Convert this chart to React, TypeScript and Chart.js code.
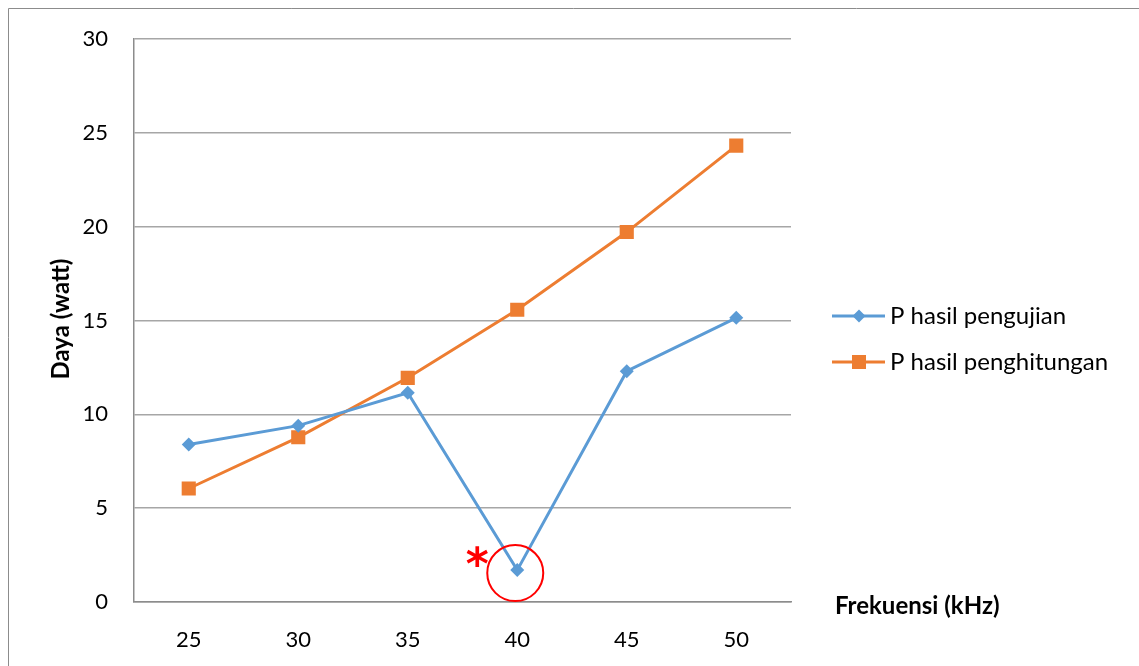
import React, { useEffect, useRef } from "react";
import { Chart, registerables } from "chart.js";

Chart.register(...registerables);

// Frequency categories (kHz)
const frequencies = ["25", "30", "35", "40", "45", "50"];
// Measured power (watt)
const pengujian = [8.4, 9.4, 11.15, 1.7, 12.3, 15.15];
// Calculated power (watt)
const penghitungan = [6.05, 8.78, 11.95, 15.58, 19.72, 24.33];

const yTicks = [0, 5, 10, 15, 20, 25, 30];

const seriesLabels = ["P hasil pengujian", "P hasil penghitungan"];
const blue = "#5b9bd5";
const orange = "#ed7d31";
const font = "Lato, 'Open Sans', sans-serif";

// Draws the frame, axis titles, custom legend and the highlight around the dip at 40 kHz
const decorations = {
  id: "decorations",
  afterDraw(chart: any) {
    const { ctx, chartArea, scales } = chart;
    ctx.save();

    // outer frame
    ctx.strokeStyle = "#8c8c8c";
    ctx.lineWidth = 1;
    ctx.beginPath();
    ctx.moveTo(8.5, chart.height);
    ctx.lineTo(8.5, 8.5);
    ctx.lineTo(chart.width, 8.5);
    ctx.stroke();

    // y-axis title
    ctx.fillStyle = "#000";
    ctx.font = `bold 24px ${font}`;
    ctx.textAlign = "center";
    ctx.textBaseline = "middle";
    ctx.save();
    ctx.translate(61, 319);
    ctx.rotate(-Math.PI / 2);
    ctx.fillText("Daya (watt)", 0, 0);
    ctx.restore();

    // x-axis title, beside the axis end
    ctx.textAlign = "left";
    ctx.fillText("Frekuensi (kHz)", chartArea.right + 44, chartArea.bottom + 4);

    // legend
    const legendX = chartArea.right + 41;
    const rows = [
      { y: 316, color: blue, style: "diamond", label: seriesLabels[0] },
      { y: 362, color: orange, style: "square", label: seriesLabels[1] },
    ];
    rows.forEach((r) => {
      ctx.strokeStyle = r.color;
      ctx.lineWidth = 3;
      ctx.beginPath();
      ctx.moveTo(legendX, r.y);
      ctx.lineTo(legendX + 53, r.y);
      ctx.stroke();
      ctx.fillStyle = r.color;
      const cx = legendX + 27;
      if (r.style === "diamond") {
        ctx.beginPath();
        ctx.moveTo(cx, r.y - 6.5);
        ctx.lineTo(cx + 6.5, r.y);
        ctx.lineTo(cx, r.y + 6.5);
        ctx.lineTo(cx - 6.5, r.y);
        ctx.closePath();
        ctx.fill();
      } else {
        ctx.fillRect(cx - 7, r.y - 7, 14, 14);
      }
      ctx.fillStyle = "#000";
      ctx.font = `24px ${font}`;
      ctx.textAlign = "left";
      ctx.textBaseline = "middle";
      ctx.fillText(r.label, legendX + 58, r.y);
    });

    // red circle and asterisk around the 40 kHz measurement
    const px = scales.x.getPixelForValue(3);
    const py = scales.y.getPixelForValue(pengujian[3]);
    ctx.strokeStyle = "#ff0000";
    ctx.lineWidth = 2;
    ctx.beginPath();
    ctx.arc(px - 2, py + 3, 28, 0, Math.PI * 2);
    ctx.stroke();

    ctx.fillStyle = "#ff0000";
    ctx.font = "bold 44px 'DejaVu Sans', sans-serif";
    ctx.textAlign = "left";
    ctx.textBaseline = "alphabetic";
    const m = ctx.measureText("*");
    const gw = m.actualBoundingBoxRight + m.actualBoundingBoxLeft;
    const gh = m.actualBoundingBoxAscent + m.actualBoundingBoxDescent;
    const ax = px - 40;
    const ay = py - 14;
    ctx.fillText(
      "*",
      ax - gw / 2 + m.actualBoundingBoxLeft,
      ay + gh / 2 - m.actualBoundingBoxDescent
    );

    ctx.restore();
  },
};

export default function App() {
  const canvasRef = useRef<HTMLCanvasElement | null>(null);

  useEffect(() => {
    const canvas = canvasRef.current;
    if (!canvas) return;
    const chart = new Chart(canvas, {
      type: "line",
      data: {
        labels: frequencies,
        datasets: [
          {
            label: seriesLabels[0],
            data: pengujian,
            borderColor: blue,
            backgroundColor: blue,
            borderWidth: 3,
            pointStyle: "rectRot",
            pointRadius: 7,
            pointBorderWidth: 0,
            tension: 0,
          },
          {
            label: seriesLabels[1],
            data: penghitungan,
            borderColor: orange,
            backgroundColor: orange,
            borderWidth: 3,
            pointStyle: "rect",
            pointRadius: 10,
            pointBorderWidth: 0,
            tension: 0,
          },
        ],
      },
      options: {
        responsive: false,
        animation: false,
        layout: { padding: { top: 37, right: 348, left: 0, bottom: 0 } },
        plugins: {
          legend: { display: false },
          tooltip: { enabled: false },
        },
        scales: {
          x: {
            type: "category",
            offset: true,
            grid: { display: false },
            border: { display: true, color: "#8c8c8c", width: 1.5 },
            ticks: {
              color: "#000",
              font: { family: font, size: 22 },
              padding: 17,
              maxRotation: 0,
            },
            afterFit(scale: any) {
              scale.height = 64;
            },
          },
          y: {
            min: 0,
            max: 30,
            afterBuildTicks(scale: any) {
              scale.ticks = yTicks.map((v) => ({ value: v }));
            },
            grid: { color: "#a6a6a6", lineWidth: 1.5, drawTicks: false },
            border: { display: true, color: "#8c8c8c", width: 1.5 },
            ticks: {
              color: "#000",
              font: { family: font, size: 22 },
              padding: 26,
            },
            afterFit(scale: any) {
              scale.width = 134;
            },
          },
        },
      },
      plugins: [decorations],
    });
    return () => chart.destroy();
  }, []);

  return (
    <div style={{ position: "fixed", left: 0, top: 0, width: 1139, height: 666, background: "#fff" }}>
      <canvas ref={canvasRef} width={1139} height={666} />
    </div>
  );
}
